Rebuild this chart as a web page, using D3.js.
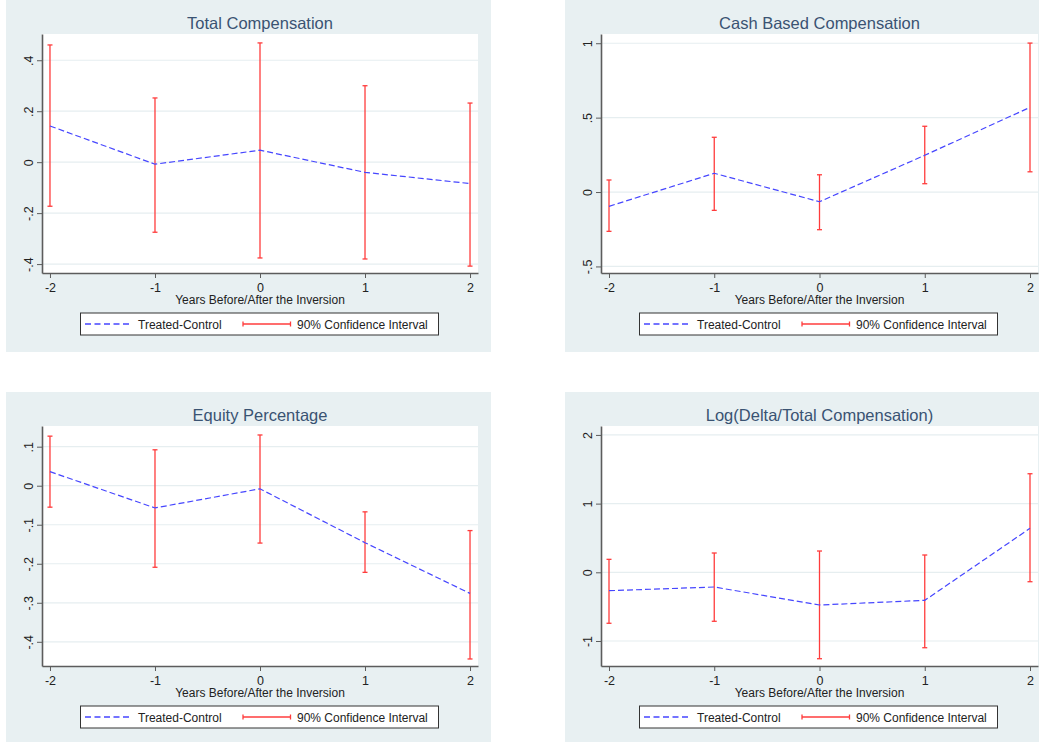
<!DOCTYPE html>
<html>
<head>
<meta charset="utf-8">
<script src="https://cdn.jsdelivr.net/npm/d3@7"></script>
<style>
  body { margin: 0; background: #ffffff; }
  svg { display: block; font-family: "Liberation Sans", Arial, sans-serif; }
</style>
</head>
<body>
<svg id="drawing_region"></svg>
<script>
// event time (years relative to the inversion)
const years = [-2, -1, 0, 1, 2];
const yearLabels = ['-2', '-1', '0', '1', '2'];

// Total Compensation
const totalEst = [0.142, -0.008, 0.047, -0.040, -0.084];
const totalLow = [-0.173, -0.275, -0.376, -0.380, -0.408];
const totalHigh = [0.460, 0.252, 0.468, 0.300, 0.232];
const totalTicks = [-0.4, -0.2, 0, 0.2, 0.4];
const totalTickLabels = ['-.4', '-.2', '0', '.2', '.4'];

// Cash Based Compensation
const cashEst = [-0.096, 0.126, -0.065, 0.247, 0.569];
const cashLow = [-0.264, -0.123, -0.253, 0.056, 0.136];
const cashHigh = [0.081, 0.368, 0.116, 0.442, 1.001];
const cashTicks = [-0.5, 0, 0.5, 1];
const cashTickLabels = ['-.5', '0', '.5', '1'];

// Equity Percentage
const equityEst = [0.036, -0.057, -0.008, -0.146, -0.276];
const equityLow = [-0.055, -0.209, -0.147, -0.222, -0.444];
const equityHigh = [0.127, 0.092, 0.130, -0.067, -0.115];
const equityTicks = [-0.4, -0.3, -0.2, -0.1, 0, 0.1];
const equityTickLabels = ['-.4', '-.3', '-.2', '-.1', '0', '.1'];

// Log(Delta/Total Compensation)
const deltaEst = [-0.268, -0.214, -0.476, -0.408, 0.640];
const deltaLow = [-0.742, -0.713, -1.258, -1.098, -0.137];
const deltaHigh = [0.189, 0.281, 0.310, 0.252, 1.435];
const deltaTicks = [-1, 0, 1, 2];
const deltaTickLabels = ['-1', '0', '1', '2'];

const xLabel = 'Years Before/After the Inversion';
const legendLabels = ['Treated-Control', '90% Confidence Interval'];

const panels = [
    { title: 'Total Compensation', est: totalEst, low: totalLow, high: totalHigh,
      ticks: totalTicks, labels: totalTickLabels, ydomain: [-0.435, 0.503],
      bg: [6, 0, 485, 352], plot: [42, 34, 436, 239] },
    { title: 'Cash Based Compensation', est: cashEst, low: cashLow, high: cashHigh,
      ticks: cashTicks, labels: cashTickLabels, ydomain: [-0.544, 1.062],
      bg: [565, 0, 474, 352], plot: [601, 34, 437, 239] },
    { title: 'Equity Percentage', est: equityEst, low: equityLow, high: equityHigh,
      ticks: equityTicks, labels: equityTickLabels, ydomain: [-0.462, 0.153],
      bg: [6, 392, 485, 350], plot: [42, 426, 436, 240] },
    { title: 'Log(Delta/Total Compensation)', est: deltaEst, low: deltaLow, high: deltaHigh,
      ticks: deltaTicks, labels: deltaTickLabels, ydomain: [-1.364, 2.13],
      bg: [565, 392, 474, 350], plot: [601, 426, 437, 240] }
];

const svg = d3.select('#drawing_region')
    .attr('width', 1039)
    .attr('height', 742);

const BG = '#e8f0f2';
const LINE = '#4646ff';
const CI = '#ff3c3c';
const AXIS = '#5c5c5c';

panels.forEach(p => {
    const [bx, by, bw, bh] = p.bg;
    const [px, py, pw, ph] = p.plot;

    svg.append('rect')
        .attr('x', bx).attr('y', by)
        .attr('width', bw).attr('height', bh)
        .attr('fill', BG);

    svg.append('rect')
        .attr('x', px).attr('y', py)
        .attr('width', pw).attr('height', ph)
        .attr('fill', '#ffffff');

    const g = svg.append('g')
        .attr('transform', `translate(${px}, ${py})`);

    // small padding on each side so -2 and 2 sit just inside the frame
    const pad = 0.076;
    const xscale = d3.scaleLinear()
        .domain([years[0] - pad, years[years.length - 1] + pad])
        .range([0, pw]);

    const yscale = d3.scaleLinear()
        .domain(p.ydomain)
        .range([ph, 0]);

    // grid lines
    g.selectAll('.grid')
        .data(p.ticks)
        .join('line')
        .attr('class', 'grid')
        .attr('x1', 0).attr('x2', pw)
        .attr('y1', d => yscale(d)).attr('y2', d => yscale(d))
        .attr('stroke', '#e6eef0')
        .attr('stroke-width', 1.2);

    // y axis
    const yaxis = d3.axisLeft(yscale)
        .tickValues(p.ticks)
        .tickFormat((d, i) => p.labels[i])
        .tickSize(5)
        .tickSizeOuter(0);

    const yg = g.append('g').call(yaxis);
    yg.select('.domain').attr('stroke', AXIS).attr('stroke-width', 1.6);
    yg.selectAll('.tick line').attr('stroke', AXIS);
    yg.selectAll('.tick text')
        .attr('transform', 'rotate(-90)')
        .attr('x', 0)
        .attr('y', -9.5)
        .attr('dy', 0)
        .attr('text-anchor', 'middle')
        .attr('fill', '#222')
        .style('font-size', '12.5px');

    // x axis
    const xaxis = d3.axisBottom(xscale)
        .tickValues(years)
        .tickFormat((d, i) => yearLabels[i])
        .tickSize(5)
        .tickSizeOuter(0);

    const xg = g.append('g')
        .attr('transform', `translate(0, ${ph})`)
        .call(xaxis);
    xg.select('.domain').attr('stroke', AXIS).attr('stroke-width', 1.6);
    xg.selectAll('.tick line').attr('stroke', AXIS);
    xg.selectAll('.tick text')
        .attr('y', 19)
        .attr('dy', 0)
        .attr('fill', '#222')
        .style('font-size', '12.5px');

    // confidence intervals
    const rows = years.map((yr, i) => ({ yr: yr, est: p.est[i], low: p.low[i], high: p.high[i] }));

    g.selectAll('.ci')
        .data(rows)
        .join('line')
        .attr('class', 'ci')
        .attr('x1', d => xscale(d.yr)).attr('x2', d => xscale(d.yr))
        .attr('y1', d => yscale(d.low)).attr('y2', d => yscale(d.high))
        .attr('stroke', CI)
        .attr('stroke-width', 1.3);

    ['low', 'high'].forEach(k => {
        g.selectAll('.cap-' + k)
            .data(rows)
            .join('line')
            .attr('class', 'cap-' + k)
            .attr('x1', d => xscale(d.yr) - 2.5).attr('x2', d => xscale(d.yr) + 2.5)
            .attr('y1', d => yscale(d[k])).attr('y2', d => yscale(d[k]))
            .attr('stroke', CI)
            .attr('stroke-width', 1.3);
    });

    // treated-control line
    const line = d3.line()
        .x(d => xscale(d.yr))
        .y(d => yscale(d.est));

    g.append('path')
        .datum(rows)
        .attr('d', line)
        .attr('fill', 'none')
        .attr('stroke', LINE)
        .attr('stroke-width', 1.2)
        .attr('stroke-dasharray', '6,3');

    // title
    svg.append('text')
        .attr('x', px + pw / 2)
        .attr('y', py - 5)
        .attr('text-anchor', 'middle')
        .attr('fill', '#3a5372')
        .style('font-size', '16.5px')
        .text(p.title);

    // x label
    svg.append('text')
        .attr('x', px + pw / 2)
        .attr('y', py + ph + 31)
        .attr('text-anchor', 'middle')
        .attr('fill', '#222')
        .style('font-size', '12px')
        .text(xLabel);

    // legend
    const lx = px + 38.5;
    const ly = py + ph + 40;
    const legend = svg.append('g')
        .attr('transform', `translate(${lx}, ${ly})`);

    legend.append('rect')
        .attr('x', 0).attr('y', 0)
        .attr('width', 358).attr('height', 22)
        .attr('fill', '#ffffff')
        .attr('stroke', '#333')
        .attr('stroke-width', 1);

    legend.append('line')
        .attr('x1', 4.5).attr('x2', 50.5)
        .attr('y1', 11).attr('y2', 11)
        .attr('stroke', LINE)
        .attr('stroke-width', 1.3)
        .attr('stroke-dasharray', '6,3.5');

    legend.append('text')
        .attr('x', 57.5).attr('y', 15.5)
        .attr('fill', '#222')
        .style('font-size', '12px')
        .text(legendLabels[0]);

    legend.append('line')
        .attr('x1', 162.5).attr('x2', 210)
        .attr('y1', 11).attr('y2', 11)
        .attr('stroke', CI)
        .attr('stroke-width', 1.3);

    [162.5, 210].forEach(cx => {
        legend.append('line')
            .attr('x1', cx).attr('x2', cx)
            .attr('y1', 8.5).attr('y2', 13.5)
            .attr('stroke', CI)
            .attr('stroke-width', 1.3);
    });

    legend.append('text')
        .attr('x', 216.5).attr('y', 15.5)
        .attr('fill', '#222')
        .style('font-size', '12px')
        .text(legendLabels[1]);
});
</script>
</body>
</html>
